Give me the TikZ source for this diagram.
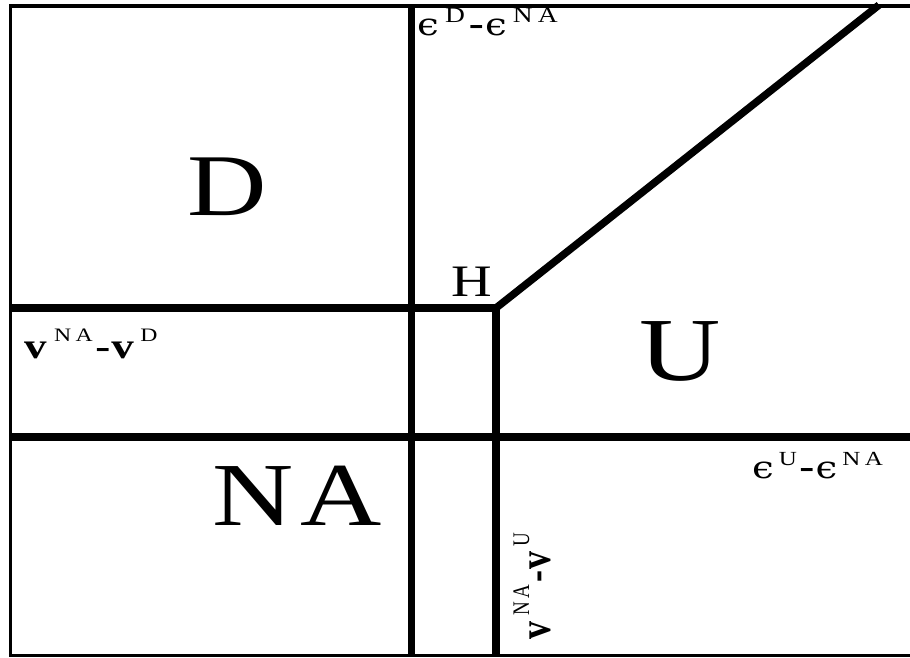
\documentclass[tikz,border=0pt]{standalone}
\usepackage{fontspec}
\setmainfont{Liberation Serif}
\newfontfamily\epsfont{DejaVu Serif}
\newcommand{\Wide}[1]{\scalebox{1.25}[1]{#1}}
\newcommand{\Up}[4][6pt]{\kern#1\raisebox{#2}{\fontsize{#3}{#3}\selectfont\addfontfeature{LetterSpace=18}#4}\kern2pt}
\newcommand{\Eps}{{\epsfont\fontsize{31}{31}\selectfont ϵ}}
\newcommand{\Vb}{\textbf{v}}
\newcommand{\Dash}{\textbf{-}\kern1pt}
\begin{document}
\begin{tikzpicture}[x=1pt,y=-1pt,
  frame/.style={line width=3.5pt},
  thick line/.style={line width=7.5pt},
  big/.style={inner sep=0pt},
  lab/.style={font=\fontsize{36}{36}\selectfont, inner sep=0pt},
]
\useasboundingbox (0,0) rectangle (910,657);
% frame
\draw[frame] (910,6) -- (10.5,6) -- (10.5,655.5) -- (910,655.5);
% coordinates
\coordinate (hl) at (10,308);
\coordinate (hc) at (496,308);
\coordinate (v1t) at (411.5,6);
\coordinate (v1b) at (411.5,655);
\coordinate (v2b) at (496,655);
\coordinate (ll) at (10,437);
\coordinate (lr) at (910,437);
\coordinate (dt) at (879,5);
% lines
\draw[thick line] (v1t) -- (v1b);
\draw[thick line] (ll) -- (lr);
\draw[thick line, line join=miter] (hl) -- (hc) -- (v2b);
\draw[thick line] (hc) -- (dt);
% region labels
\node[big, font=\fontsize{88}{88}\selectfont, anchor=base] (D) at (227,215) {\Wide{D}};
\node[big, font=\fontsize{90}{90}\selectfont, anchor=base] (U) at (680,380) {\Wide{U}};
\node[big, font=\fontsize{90}{90}\selectfont, anchor=base] (NA) at (297,525) {\Wide{N\kern0.06em A}};
\node[big, font=\fontsize{45}{45}\selectfont, anchor=base] (H) at (472,296) {\Wide{H}};
% axis labels
\node[lab, anchor=base west] (eD) at (417,35) {\Wide{\Eps\Up[5pt]{13pt}{22}{D}\kern1pt\Dash\Eps\Up[5pt]{13pt}{22}{NA}}};
\node[lab, anchor=base west] (vD) at (24,358) {\Wide{\Vb\Up{17pt}{19}{NA}\Dash\Vb\Up[5pt]{17pt}{19}{D}}};
\node[lab, anchor=base west] (eU) at (752,478) {\Wide{\Eps\Up[4pt]{13pt}{20}{U}\Dash\Eps\Up[4pt]{13pt}{20}{NA}}};
\node[lab, anchor=south east] (vU) at (551,640) {\Wide{\rotatebox{90}{\Vb\Up{17pt}{19}{NA}\Dash\Vb\Up[5pt]{17pt}{19}{U}}}};
\end{tikzpicture}
\end{document}
